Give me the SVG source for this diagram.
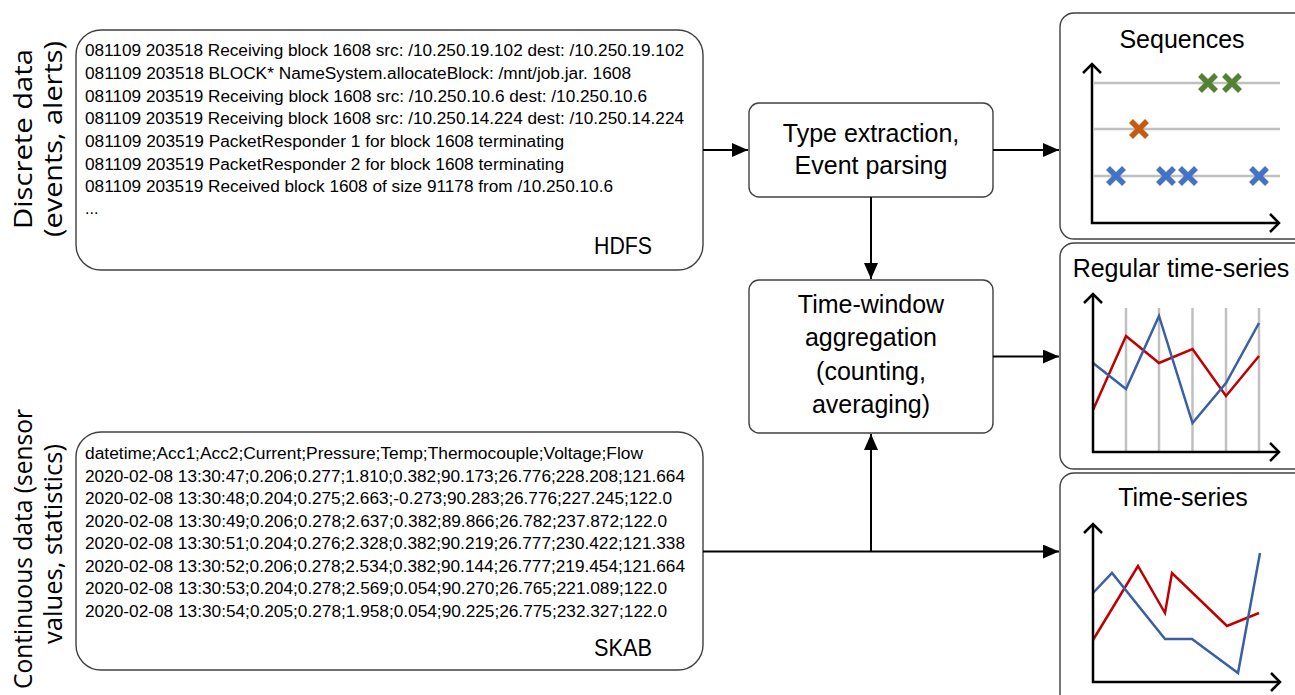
<svg xmlns="http://www.w3.org/2000/svg" width="1295" height="695" viewBox="0 0 1295 695">
<style>
.box{fill:#fff;stroke:#404040;stroke-width:1.4}
.mono{font-family:"Liberation Sans",Arial,sans-serif;font-size:16px;fill:#000}
.lbl{font-family:"Liberation Sans",Arial,sans-serif;font-size:24px;fill:#000}
.node{font-family:"Liberation Sans",Arial,sans-serif;font-size:25px;fill:#000;text-anchor:middle}
.side{font-family:"Open Sans","DejaVu Sans",sans-serif;font-size:26px;fill:#000;text-anchor:middle}
.conn{stroke:#000;stroke-width:2;fill:none}
.axis{stroke:#000;stroke-width:2.5;fill:none}
.grid{stroke:#c0c0c0;stroke-width:2.5;fill:none}
.red{stroke:#c00000;stroke-width:2.5;fill:none;stroke-linejoin:miter}
.blue{stroke:#3a5fa5;stroke-width:2.5;fill:none;stroke-linejoin:miter}
.xb{stroke:#4472c4;stroke-width:5.5}
.xo{stroke:#c55a11;stroke-width:5.5}
.xg{stroke:#548235;stroke-width:5.5}
</style>
<defs>
<marker id="arr" markerUnits="userSpaceOnUse" markerWidth="16" markerHeight="14" refX="16" refY="7" orient="auto">
<path d="M0,0 L16,7 L0,14 z" fill="#000"/>
</marker>
<g id="xm"><path d="M-8,-8 L8,8 M-8,8 L8,-8"/></g>
</defs>

<g id="side-labels">
<text class="side" transform="translate(32,139) rotate(-90)" textLength="180" lengthAdjust="spacingAndGlyphs">Discrete data</text>
<text class="side" transform="translate(62,139) rotate(-90)" textLength="196" lengthAdjust="spacingAndGlyphs">(events, alerts)</text>
<text class="side" transform="translate(32,549) rotate(-90)" textLength="280" lengthAdjust="spacingAndGlyphs">Continuous data (sensor</text>
<text class="side" transform="translate(62,544) rotate(-90)" textLength="200" lengthAdjust="spacingAndGlyphs">values, statistics)</text>
</g>

<g id="hdfs">
<rect class="box" x="76" y="30" width="627" height="240" rx="25" ry="25"/>
<text class="mono" x="85" y="56" textLength="599" lengthAdjust="spacingAndGlyphs">081109 203518 Receiving block 1608 src: /10.250.19.102 dest: /10.250.19.102</text>
<text class="mono" x="85" y="79" textLength="546" lengthAdjust="spacingAndGlyphs">081109 203518 BLOCK* NameSystem.allocateBlock: /mnt/job.jar. 1608</text>
<text class="mono" x="85" y="101.5" textLength="562" lengthAdjust="spacingAndGlyphs">081109 203519 Receiving block 1608 src: /10.250.10.6 dest: /10.250.10.6</text>
<text class="mono" x="85" y="124" textLength="599" lengthAdjust="spacingAndGlyphs">081109 203519 Receiving block 1608 src: /10.250.14.224 dest: /10.250.14.224</text>
<text class="mono" x="85" y="147" textLength="479" lengthAdjust="spacingAndGlyphs">081109 203519 PacketResponder 1 for block 1608 terminating</text>
<text class="mono" x="85" y="169.5" textLength="479" lengthAdjust="spacingAndGlyphs">081109 203519 PacketResponder 2 for block 1608 terminating</text>
<text class="mono" x="85" y="192" textLength="528" lengthAdjust="spacingAndGlyphs">081109 203519 Received block 1608 of size 91178 from /10.250.10.6</text>
<text class="mono" x="85" y="214">...</text>
<text class="lbl" x="594" y="254" textLength="58" lengthAdjust="spacingAndGlyphs">HDFS</text>
</g>

<g id="skab">
<rect class="box" x="76" y="432" width="627" height="238" rx="25" ry="25"/>
<text class="mono" x="85" y="458.5" textLength="558" lengthAdjust="spacingAndGlyphs">datetime;Acc1;Acc2;Current;Pressure;Temp;Thermocouple;Voltage;Flow</text>
<text class="mono" x="85" y="481.5" textLength="600" lengthAdjust="spacingAndGlyphs">2020-02-08 13:30:47;0.206;0.277;1.810;0.382;90.173;26.776;228.208;121.664</text>
<text class="mono" x="85" y="504" textLength="587" lengthAdjust="spacingAndGlyphs">2020-02-08 13:30:48;0.204;0.275;2.663;-0.273;90.283;26.776;227.245;122.0</text>
<text class="mono" x="85" y="526.5" textLength="582" lengthAdjust="spacingAndGlyphs">2020-02-08 13:30:49;0.206;0.278;2.637;0.382;89.866;26.782;237.872;122.0</text>
<text class="mono" x="85" y="549" textLength="600" lengthAdjust="spacingAndGlyphs">2020-02-08 13:30:51;0.204;0.276;2.328;0.382;90.219;26.777;230.422;121.338</text>
<text class="mono" x="85" y="571.5" textLength="600" lengthAdjust="spacingAndGlyphs">2020-02-08 13:30:52;0.206;0.278;2.534;0.382;90.144;26.777;219.454;121.664</text>
<text class="mono" x="85" y="594" textLength="582" lengthAdjust="spacingAndGlyphs">2020-02-08 13:30:53;0.204;0.278;2.569;0.054;90.270;26.765;221.089;122.0</text>
<text class="mono" x="85" y="616.5" textLength="582" lengthAdjust="spacingAndGlyphs">2020-02-08 13:30:54;0.205;0.278;1.958;0.054;90.225;26.775;232.327;122.0</text>
<text class="lbl" x="594" y="656" textLength="58" lengthAdjust="spacingAndGlyphs">SKAB</text>
</g>

<g id="type-extraction">
<rect class="box" x="749" y="103" width="244" height="94" rx="10" ry="10"/>
<text class="node" x="871" y="142">Type extraction,</text>
<text class="node" x="871" y="174">Event parsing</text>
</g>

<g id="time-window">
<rect class="box" x="749" y="280" width="244" height="153" rx="10" ry="10"/>
<text class="node" x="871" y="313">Time-window</text>
<text class="node" x="871" y="346">aggregation</text>
<text class="node" x="871" y="380">(counting,</text>
<text class="node" x="871" y="413">averaging)</text>
</g>

<g id="connectors">
<line class="conn" x1="703" y1="150" x2="748" y2="150" marker-end="url(#arr)"/>
<line class="conn" x1="993" y1="150" x2="1059" y2="150" marker-end="url(#arr)"/>
<line class="conn" x1="871" y1="197" x2="871" y2="279" marker-end="url(#arr)"/>
<line class="conn" x1="993" y1="356.5" x2="1059" y2="356.5" marker-end="url(#arr)"/>
<line class="conn" x1="703" y1="551.5" x2="1059" y2="551.5" stroke-width="3" marker-end="url(#arr)"/>
<line class="conn" x1="871" y1="551.5" x2="871" y2="434" marker-end="url(#arr)"/>
</g>

<g id="sequences">
<rect class="box" x="1060" y="13" width="260" height="226" rx="14" ry="14"/>
<text class="node" x="1182" y="48" font-size="24">Sequences</text>
<line class="grid" x1="1094" y1="83" x2="1280" y2="83"/>
<line class="grid" x1="1094" y1="129" x2="1280" y2="129"/>
<line class="grid" x1="1094" y1="176" x2="1280" y2="176"/>
<path class="axis" d="M1092,64 L1092,223 L1279,223"/>
<path class="axis" d="M1083,73 L1092,64 L1101,73"/>
<path class="axis" d="M1270,214 L1279,223 L1270,232"/>
<use href="#xm" class="xg" x="1208" y="83"/>
<use href="#xm" class="xg" x="1232" y="83"/>
<use href="#xm" class="xo" x="1139" y="129"/>
<use href="#xm" class="xb" x="1116" y="176"/>
<use href="#xm" class="xb" x="1166" y="176"/>
<use href="#xm" class="xb" x="1188" y="176"/>
<use href="#xm" class="xb" x="1259" y="176"/>
</g>

<g id="regular-time-series">
<rect class="box" x="1060" y="243" width="260" height="226" rx="14" ry="14"/>
<text class="node" x="1181" y="277">Regular time-series</text>
<line class="grid" x1="1126" y1="308" x2="1126" y2="452"/>
<line class="grid" x1="1159" y1="308" x2="1159" y2="452"/>
<line class="grid" x1="1192.5" y1="308" x2="1192.5" y2="452"/>
<line class="grid" x1="1226" y1="308" x2="1226" y2="452"/>
<line class="grid" x1="1259" y1="308" x2="1259" y2="452"/>
<polyline class="red" points="1093,410 1126,336 1159,363 1192.5,349 1226,396 1259,356"/>
<polyline class="blue" points="1093,363 1126,389 1159,316 1192.5,423 1226,383 1259,323"/>
<path class="axis" d="M1093,294 L1093,452 L1279,452"/>
<path class="axis" d="M1084,303 L1093,294 L1102,303"/>
<path class="axis" d="M1270,443 L1279,452 L1270,461"/>
</g>

<g id="time-series">
<rect class="box" x="1060" y="473" width="260" height="240" rx="14" ry="14"/>
<text class="node" x="1183" y="506">Time-series</text>
<polyline class="red" points="1093,640 1138,566 1165,613 1172,573 1227,626 1259,613"/>
<polyline class="blue" points="1093,593 1112,573 1165,639 1192,639 1238,673 1260,553"/>
<path class="axis" d="M1093,524 L1093,682 L1280,682"/>
<path class="axis" d="M1084,533 L1093,524 L1102,533"/>
<path class="axis" d="M1271,673 L1280,682 L1271,691"/>
</g>
</svg>
